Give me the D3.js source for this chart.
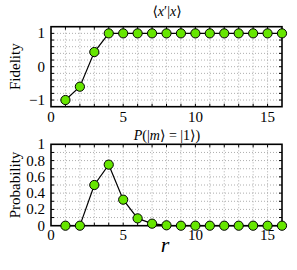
<!DOCTYPE html>
<html>
<head>
<meta charset="utf-8">
<script src="https://cdn.jsdelivr.net/npm/d3@7"></script>
<style>
body { margin: 0; background: #fff; }
</style>
</head>
<body>
<script>
var rValues = [1, 2, 3, 4, 5, 6, 7, 8, 9, 10, 11, 12, 13, 14, 15, 16];
var fidelity = [-1, -0.6, 0.44, 1, 1, 1, 1, 1, 1, 1, 1, 1, 1, 1, 1, 1];
var probability = [0, 0, 0.5, 0.75, 0.32, 0.09, 0.025, 0.005, 0, 0, 0, 0, 0, 0, 0, 0];
var xTickLabels = [0, 5, 10, 15];
var fidTicks = [-1, 0, 1];
var probTicks = [0, 0.2, 0.4, 0.6, 0.8, 1];

var width = 297, height = 270;
var serif = "'Liberation Serif', 'Times New Roman', 'DejaVu Serif', serif";
var svg = d3.select('body').append('svg')
	.attr('width', width)
	.attr('height', height)
	.attr('font-family', serif);

var x = d3.scaleLinear().domain([0, 16]).range([51, 282]);

function drawPanel(yScale, values, gridStep, yTicks, yFmt, title, titleY, ylabel, xLabelY) {
	var y0 = yScale.range()[0], y1 = yScale.range()[1];
	var g = svg.append('g');

	// dotted grid
	var xs = d3.range(1, 16);
	g.selectAll('.vg').data(xs).enter().append('line')
		.attr('x1', d => x(d)).attr('x2', d => x(d))
		.attr('y1', y1).attr('y2', y0)
		.attr('stroke', '#999').attr('stroke-width', 0.8)
		.attr('stroke-dasharray', '1,2');
	var dom = yScale.domain();
	var ys = d3.range(Math.round((dom[1] - dom[0]) / gridStep) - 1).map(i => dom[0] + gridStep * (i + 1));
	g.selectAll('.hg').data(ys).enter().append('line')
		.attr('x1', x(0)).attr('x2', x(16))
		.attr('y1', d => yScale(d)).attr('y2', d => yScale(d))
		.attr('stroke', '#999').attr('stroke-width', 0.8)
		.attr('stroke-dasharray', '1,2');

	// inward ticks
	xs.forEach(function (d) {
		g.append('line').attr('x1', x(d)).attr('x2', x(d)).attr('y1', y0).attr('y2', y0 - 3).attr('stroke', '#000');
		g.append('line').attr('x1', x(d)).attr('x2', x(d)).attr('y1', y1).attr('y2', y1 + 3).attr('stroke', '#000');
	});
	ys.forEach(function (d) {
		g.append('line').attr('x1', x(0)).attr('x2', x(0) + 3).attr('y1', yScale(d)).attr('y2', yScale(d)).attr('stroke', '#000');
		g.append('line').attr('x1', x(16)).attr('x2', x(16) - 3).attr('y1', yScale(d)).attr('y2', yScale(d)).attr('stroke', '#000');
	});

	// frame
	g.append('rect')
		.attr('x', x(0)).attr('y', y1)
		.attr('width', x(16) - x(0)).attr('height', y0 - y1)
		.attr('fill', 'none').attr('stroke', '#000').attr('stroke-width', 1.6);

	// tick labels
	g.selectAll('.xl').data(xTickLabels).enter().append('text')
		.attr('x', d => x(d)).attr('y', xLabelY)
		.attr('text-anchor', 'middle').attr('font-size', 15)
		.text(d => d);
	g.selectAll('.yl').data(yTicks).enter().append('text')
		.attr('x', 45).attr('y', d => yScale(d) + 5)
		.attr('text-anchor', 'end').attr('font-size', 15)
		.text(yFmt);

	// title
	g.append('text').attr('x', 167).attr('y', titleY)
		.attr('text-anchor', 'middle').attr('font-size', 14)
		.html(title);

	// y label
	g.append('text')
		.attr('transform', 'translate(20,' + ((y0 + y1) / 2) + ') rotate(-90)')
		.attr('text-anchor', 'middle').attr('font-size', 15)
		.text(ylabel);

	// line + markers
	var line = d3.line().x((d, i) => x(rValues[i])).y(d => yScale(d));
	g.append('path').datum(values)
		.attr('d', line).attr('fill', 'none')
		.attr('stroke', '#000').attr('stroke-width', 1.2);
	g.selectAll('.pt').data(values).enter().append('circle')
		.attr('cx', (d, i) => x(rValues[i])).attr('cy', d => yScale(d))
		.attr('r', 4.6)
		.attr('fill', '#66e600').attr('stroke', '#000').attr('stroke-width', 1);
}

var yTop = d3.scaleLinear().domain([-1.2, 1.2]).range([106.7, 26.7]);
var yBot = d3.scaleLinear().domain([0, 1]).range([225.7, 144.3]);

drawPanel(yTop, fidelity, 0.2, fidTicks, d => d < 0 ? '\u2212' + Math.abs(d) : d,
	'\u27E8<tspan font-style="italic">x</tspan>\u2032|<tspan font-style="italic">x</tspan>\u27E9', 16, 'Fidelity', 122);
drawPanel(yBot, probability, 0.1, probTicks, d => d,
	'<tspan font-style="italic">P</tspan>(|<tspan font-style="italic">m</tspan>\u27E9 = |1\u27E9)', 140, 'Probability', 240);

svg.append('text').attr('x', 165).attr('y', 252)
	.attr('text-anchor', 'middle').attr('font-size', 22)
	.attr('font-style', 'italic').text('r');
</script>
</body>
</html>
